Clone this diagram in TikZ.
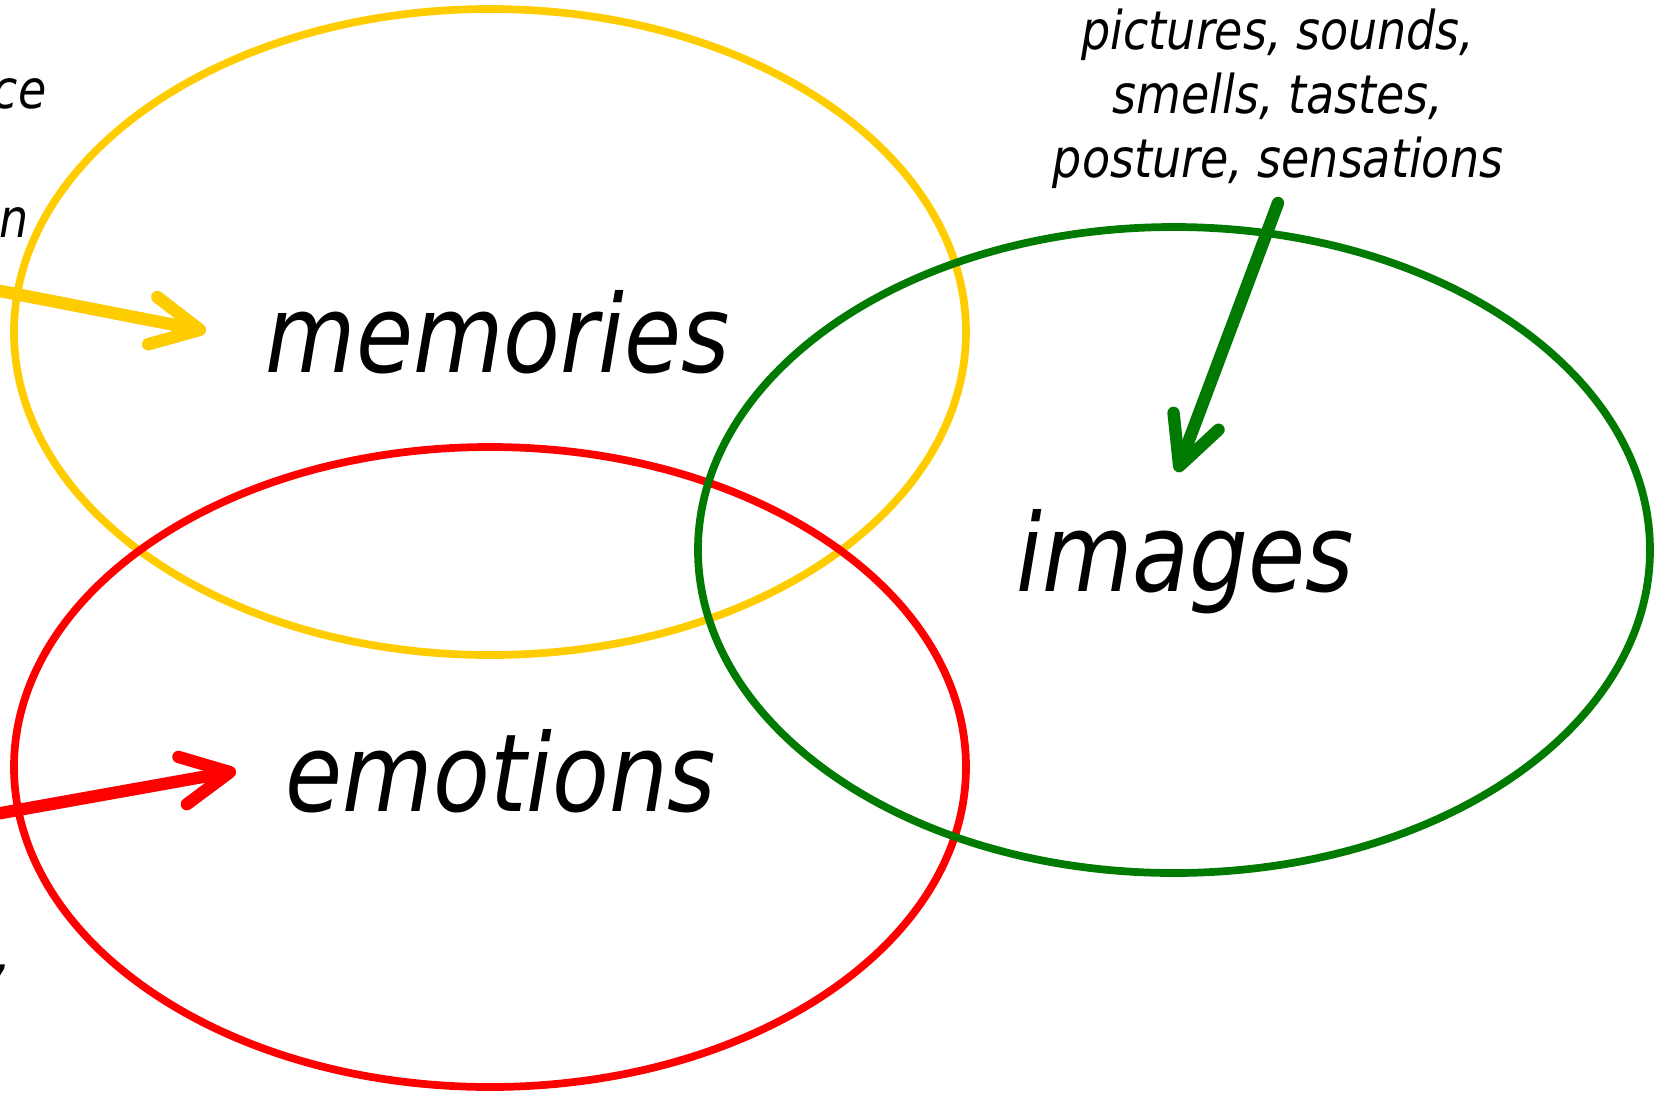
\documentclass[tikz,border=0pt]{standalone}
\usepackage{fontspec}
\setmainfont{DejaVu Sans}[FakeStretch=0.86]
\usepackage{xcolor}
\usepackage{tikz}
\usetikzlibrary{positioning,arrows.meta}
\definecolor{memyellow}{RGB}{255,204,0}
\definecolor{emored}{RGB}{255,0,0}
\definecolor{imggreen}{RGB}{0,122,0}

\begin{document}
\begin{tikzpicture}[
  x=0.01cm, y=-0.01cm,
  ring/.style={line width=2.2pt},
  big/.style={font=\fontsize{30.7}{36}\selectfont\itshape,inner sep=0pt,anchor=base},
  small/.style={font=\fontsize{15.2}{18.1}\selectfont\itshape,inner sep=0pt},
  pointer/.style={line width=3.5pt,line cap=round,
    -{Straight Barb[length=4.8mm,width=4.8mm,round]}},
  shade/.style={pointer,black,opacity=0.15,shift={(2,3)}},
]
\useasboundingbox (0,0) rectangle (1656,1096);
% the three sets
\draw[ring,memyellow] (490,332) ellipse [x radius=476, y radius=323];
\draw[ring,emored] (490,767) ellipse [x radius=476, y radius=320];
\draw[ring,imggreen] (1174,550) ellipse [x radius=476, y radius=323];
% labels
\node[big] (mem) at (498,372) {memories};
\node[big] (emo) at (501,811) {emotions};
\node[big] (img) at (1185,591) {images};
\node[small,align=center,anchor=base] (senses) at (1278,177)
  {pictures, sounds,\\smells, tastes,\\posture, sensations};
% text cut off at the left edge
\node[small,anchor=base east] (left1) at (47,108) {ce};
\node[small,anchor=base east] (left2) at (29,237) {on};
\node[small,anchor=base east] (left3) at (12,971) {s,};
% arrows
\coordinate (ystart) at (-10,289);
\coordinate (ytip) at (206,331);
\coordinate (rstart) at (-10,815);
\coordinate (rtip) at (236,771);
\coordinate (gstart) at (1278,203);
\coordinate (gtip) at (1177,472);
\draw[shade] (ystart) -- (ytip);
\draw[shade] (rstart) -- (rtip);
\draw[shade] (gstart) -- (gtip);
\draw[pointer,memyellow] (ystart) -- (ytip);
\draw[pointer,emored] (rstart) -- (rtip);
\draw[pointer,imggreen] (gstart) -- (gtip);
\end{tikzpicture}
\end{document}
